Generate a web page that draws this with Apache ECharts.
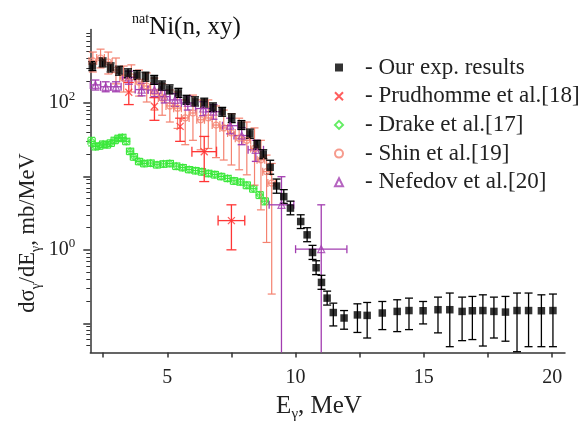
<!DOCTYPE html>
<html>
<head>
<meta charset="utf-8">
<script src="https://cdn.jsdelivr.net/npm/echarts@6/dist/echarts.min.js"></script>
<style>
html, body { margin: 0; padding: 0; background: #fff; }
#chart { width: 587px; height: 421px; }
</style>
</head>
<body>
<div id="chart"></div>
<script>
// axes
var xMin = 2, xMax = 20.5;
var yMin = 0.04, yMax = 1000;
var xTicks = [2.5, 5, 7.5, 10, 12.5, 15, 17.5, 20];
var xLabels = [5, 10, 15, 20];
var yMajor = [0.1, 1, 10, 100];
var yLabels = [1, 100];
var minorMul = [2, 3, 4, 5, 6, 7, 8, 9];

// Our exp. results
var oursE = [2.08, 2.48, 2.79, 3.12, 3.47, 3.82, 4.15, 4.49, 4.79, 5.09, 5.43, 5.75, 6.08, 6.44, 6.78, 7.14, 7.51, 7.89, 8.22, 8.5,
  8.74, 9.01, 9.26, 9.54, 9.80, 10.2, 10.45, 10.66, 10.80, 11.01, 11.23, 11.47, 11.89, 12.41, 12.79, 13.38, 13.96, 14.42, 14.97, 15.55,
  16.01, 16.49, 16.89, 17.30, 17.73, 18.18, 18.63, 19.08, 19.58, 20.03];
var oursY = [318, 356, 304, 275, 253, 240, 228, 206, 173, 153, 137, 110, 105, 101, 87, 76, 62, 50, 38, 27,
  20, 13.3, 7.4, 5.3, 3.7, 2.43, 1.6, 0.92, 0.57, 0.36, 0.22, 0.14, 0.118, 0.130, 0.128, 0.138, 0.145, 0.149, 0.148, 0.153,
  0.153, 0.145, 0.148, 0.149, 0.145, 0.142, 0.149, 0.149, 0.148, 0.149];
var oursLo = [276, 310, 264, 239, 220, 209, 198, 179, 150, 133, 119, 96, 91, 88, 76, 66, 54, 43.5, 33, 23.5,
  17.4, 10.7, 5.9, 4.3, 3.0, 1.95, 1.29, 0.74, 0.46, 0.29, 0.177, 0.092, 0.083, 0.075, 0.063, 0.082, 0.077, 0.082, 0.098, 0.074,
  0.048, 0.058, 0.060, 0.049, 0.063, 0.057, 0.041, 0.048, 0.048, 0.048];
var oursHi = [366, 409, 350, 316, 291, 276, 262, 237, 199, 176, 158, 127, 121, 116, 100, 87, 71, 57.5, 44, 31,
  23, 16.6, 9.2, 6.6, 4.6, 3.0, 2.0, 1.15, 0.71, 0.45, 0.274, 0.188, 0.149, 0.184, 0.192, 0.198, 0.209, 0.220, 0.198, 0.227,
  0.258, 0.227, 0.232, 0.244, 0.227, 0.232, 0.258, 0.258, 0.244, 0.250];

// Prudhomme et al.[18]
var prudE = [3.5, 4.5, 5.5, 6.44, 7.5];
var prudY = [140, 90, 48, 21.7, 2.5];
var prudLo = [95, 58, 30, 8.5, 1.0];
var prudHi = [190, 118, 62, 35, 4.1];
var prudDx = [0, 0, 0, 0.48, 0.52];

// Drake et al.[17]
var drakeE = [2.05, 2.2, 2.35, 2.5, 2.65, 2.8, 2.95, 3.1, 3.25, 3.4, 3.55, 3.7, 3.9, 4.1, 4.35, 4.6, 4.85,
  5.1, 5.35, 5.6, 5.85, 6.1, 6.35, 6.6, 6.85, 7.1, 7.35, 7.6, 7.85, 8.1, 8.35, 8.6, 8.8];
var drakeY = [30, 25.5, 26, 27.5, 27, 28.5, 31, 33, 34, 30, 22, 18.5, 16, 15, 15.2, 14.4, 14.8,
  15, 13.8, 13.2, 12.4, 12, 11.6, 11, 10.6, 10, 9.4, 8.7, 8.4, 7.6, 6.8, 5.6, 4.6];
var drakeDy = [4, 2.6, 2.6, 2.8, 2.7, 2.9, 3.1, 3.3, 3.4, 3.0, 2.2, 1.9, 1.6, 1.5, 1.5, 1.4, 1.5,
  1.5, 1.4, 1.3, 1.2, 1.2, 1.2, 1.1, 1.1, 1.0, 0.9, 0.9, 0.8, 0.8, 0.7, 0.6, 0.5];
var drakeDx = 0.14;

// Shin et al.[19]
var shinE = [2.1, 2.4, 2.7, 3.0, 3.3, 3.6, 3.9, 4.2, 4.5, 4.8, 5.1, 5.4, 5.7, 6.0, 6.3, 6.6, 6.9, 7.2, 7.5, 7.8,
  8.1, 8.4, 8.65, 8.87, 9.07];
var shinY = [373, 409, 361, 281, 219, 226, 193, 170, 141, 117, 91, 85, 62.5, 73, 59, 62.5, 50, 45.7, 39, 33,
  31, 24, 16.8, 11.6, 8.1];
var shinLo = [264, 300, 248, 182, 141, 141, 124, 103, 80, 68, 55, 45, 27, 31, 23, 24, 18, 16.7, 14.3, 12.3,
  10.5, 7.6, 3.5, 1.26, 0.25];
var shinHi = [493, 540, 493, 409, 318, 330, 281, 256, 218, 182, 150, 141, 110, 128, 110, 110, 91, 80, 71, 62,
  55, 45.7, 31, 19.5, 15];
var shinDx = 0.15;

// Nefedov et al.[20]
var nefE = [2.2, 2.6, 3.0, 3.5, 4.0, 4.5, 4.9, 5.3, 5.8, 6.4, 6.8, 7.45, 7.9, 8.45, 9.45, 11.0];
var nefY = [176, 166, 166, 222, 152, 150, 122, 110, 100, 84, 76, 49, 36, 23, 4.1, 1.02];
var nefLo = [150, 142, 142, 180, 125, 122, 100, 90, 80, 67, 60, 38, 27, 16, 0, 0];
var nefHi = [205, 194, 194, 270, 185, 182, 148, 134, 124, 104, 95, 62, 46, 31, 9.9, 4.1];
var nefDx = [0.2, 0.2, 0.2, 0.25, 0.25, 0.25, 0.2, 0.2, 0.25, 0.3, 0.3, 0.3, 0.3, 0.3, 0.48, 1.0];

var names = ['Our exp. results', 'Prudhomme et al.[18]', 'Drake et al.[17]', 'Shin et al.[19]', 'Nefedov et al.[20]'];
var FONT = 'Liberation Serif';
var cBlack = '#000', cRed = '#ff3535', cGreen = '#3ce83c', cSalmon = '#f48270', cPurple = '#a23db0';

function pick(d, i) { return Array.isArray(d) ? d[i] : d; }
function rows(xs, ys, lo, hi, dx) {
  return xs.map(function (x, i) {
    var w = pick(dx, i);
    return [x, ys[i], lo[i], hi[i], x - w, x + w];
  });
}
function points(xs, ys) {
  return xs.map(function (x, i) { return [x, ys[i]]; });
}

function errorBars(color, cap, lw) {
  return function (params, api) {
    var x = api.value(0), y = api.value(1);
    var loRaw = api.value(2);
    var lo = Math.max(loRaw, yMin), hi = Math.min(api.value(3), yMax);
    var xl = api.value(4), xh = api.value(5);
    var p = api.coord([x, y]);
    var pLo = api.coord([x, lo]), pHi = api.coord([x, hi]);
    var st = { stroke: color, lineWidth: lw };
    var kids = [];
    function seg(x1, y1, x2, y2) {
      kids.push({ type: 'line', shape: { x1: x1, y1: y1, x2: x2, y2: y2 }, style: st });
    }
    seg(p[0], pLo[1], p[0], pHi[1]);
    if (loRaw >= yMin) seg(p[0] - cap, pLo[1], p[0] + cap, pLo[1]);
    seg(p[0] - cap, pHi[1], p[0] + cap, pHi[1]);
    if (xh > xl) {
      var pL = api.coord([xl, y]), pR = api.coord([xh, y]);
      seg(pL[0], p[1], pR[0], p[1]);
      seg(pL[0], p[1] - cap, pL[0], p[1] + cap);
      seg(pR[0], p[1] - cap, pR[0], p[1] + cap);
    }
    return { type: 'group', children: kids };
  };
}

var drakeLo = drakeY.map(function (v, i) { return v - drakeDy[i]; });
var drakeHi = drakeY.map(function (v, i) { return v + drakeDy[i]; });

var yMinor = [];
[0.01, 0.1, 1, 10, 100].forEach(function (d) {
  minorMul.forEach(function (m) {
    var v = +(m * d).toPrecision(3);
    if (v > yMin && v < yMax) yMinor.push(v);
  });
});

function errSeries(data, color, cap, lw, z) {
  return {
    type: 'custom', silent: true, z: z,
    renderItem: errorBars(color, cap, lw),
    encode: { x: 0, y: 1 },
    data: data
  };
}
function hollow(c) {
  return { color: 'rgba(255,255,255,0)', borderColor: c, borderWidth: 1.2 };
}

var chart = echarts.init(document.getElementById('chart'));
chart.setOption({
  animation: false,
  backgroundColor: '#fff',
  title: {
    text: '{s|nat}{m|Ni(n, xy)}',
    left: 127, top: 7,
    textStyle: {
      fontFamily: FONT, fontWeight: 'normal', color: '#111',
      rich: {
        s: { fontFamily: FONT, fontSize: 14, lineHeight: 15, verticalAlign: 'top', color: '#111' },
        m: { fontFamily: FONT, fontSize: 25, lineHeight: 31, color: '#111' }
      }
    }
  },
  legend: {
    data: names,
    orient: 'vertical',
    left: 329, top: 51,
    itemWidth: 8, itemHeight: 8, itemGap: 5.7,
    formatter: '- {name}',
    textStyle: { fontFamily: FONT, fontSize: 23, lineHeight: 23, color: '#222', padding: [0, 0, 0, 17] }
  },
  grid: { left: 90.3, right: 22, top: 29.5, bottom: 68.5, outerBoundsMode: 'none' },
  xAxis: {
    type: 'value', min: xMin, max: xMax,
    axisLine: { show: true, lineStyle: { color: '#333', width: 1.5 } },
    axisTick: { show: true, customValues: xTicks, length: 5, lineStyle: { color: '#333', width: 1.5 } },
    axisLabel: { customValues: xLabels, margin: 15, fontFamily: FONT, fontSize: 20, color: '#222' },
    splitLine: { show: false }
  },
  yAxis: [{
    type: 'log', min: yMin, max: yMax, logBase: 10,
    axisLine: { show: true, lineStyle: { color: '#333', width: 1.5 } },
    axisTick: { show: true, customValues: yMajor, length: 7, lineStyle: { color: '#333', width: 1.5 } },
    axisLabel: {
      customValues: yLabels, margin: 15,
      formatter: function (v) { return '{b|10}{s|' + Math.round(Math.log10(v)) + '}'; },
      rich: {
        b: { fontFamily: FONT, fontSize: 20, lineHeight: 26, color: '#222' },
        s: { fontFamily: FONT, fontSize: 13, lineHeight: 13, verticalAlign: 'top', color: '#222' }
      }
    },
    splitLine: { show: false }
  }, {
    type: 'log', min: yMin, max: yMax, logBase: 10, position: 'left',
    axisLine: { show: false },
    axisTick: { show: true, customValues: yMinor, length: 4, lineStyle: { color: '#333', width: 1 } },
    axisLabel: { show: false },
    splitLine: { show: false }
  }],
  graphic: [{
    type: 'text', x: 28, y: 233, rotation: Math.PI / 2,
    style: {
      text: '{m|dσ}{s|γ}{m|/dE}{s|γ}{m|, mb/MeV}',
      align: 'center', verticalAlign: 'middle',
      rich: {
        m: { fontFamily: FONT, fontSize: 22.5, lineHeight: 30, fill: '#222' },
        s: { fontFamily: FONT, fontSize: 14, lineHeight: 14, verticalAlign: 'bottom', fill: '#222' }
      }
    }
  }, {
    type: 'text', x: 319, y: 406,
    style: {
      text: '{m|E}{s|γ}{m|, MeV}',
      align: 'center', verticalAlign: 'middle',
      rich: {
        m: { fontFamily: FONT, fontSize: 25, lineHeight: 32, fill: '#222' },
        s: { fontFamily: FONT, fontSize: 15, lineHeight: 15, verticalAlign: 'bottom', fill: '#222' }
      }
    }
  }],
  series: [
    errSeries(rows(drakeE, drakeY, drakeLo, drakeHi, drakeDx), cGreen, 3.5, 1.2, 1),
    errSeries(rows(shinE, shinY, shinLo, shinHi, shinDx), cSalmon, 4, 1.2, 2),
    errSeries(rows(prudE, prudY, prudLo, prudHi, prudDx), cRed, 5, 1.3, 3),
    errSeries(rows(nefE, nefY, nefLo, nefHi, nefDx), cPurple, 4, 1.3, 4),
    errSeries(rows(oursE, oursY, oursLo, oursHi, 0), cBlack, 4, 1.3, 5),
    { name: names[2], type: 'scatter', z: 6, symbol: 'diamond', symbolSize: 7, itemStyle: hollow(cGreen), data: points(drakeE, drakeY) },
    { name: names[3], type: 'scatter', z: 6, symbol: 'circle', symbolSize: 6, itemStyle: hollow(cSalmon), data: points(shinE, shinY) },
    { name: names[1], type: 'scatter', z: 7, symbol: 'path://M0,0L10,10M10,0L0,10', symbolSize: 7,
      itemStyle: { color: 'rgba(255,255,255,0)', borderColor: cRed, borderWidth: 1.3 }, data: points(prudE, prudY) },
    { name: names[4], type: 'scatter', z: 7, symbol: 'triangle', symbolSize: 7, itemStyle: hollow(cPurple), data: points(nefE, nefY) },
    { name: names[0], type: 'scatter', z: 8, symbol: 'rect', symbolSize: 7.5, itemStyle: { color: cBlack }, data: points(oursE, oursY) }
  ]
});
</script>
</body>
</html>
